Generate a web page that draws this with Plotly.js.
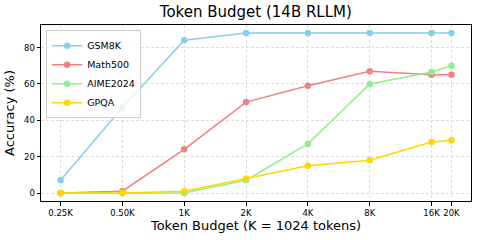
<!DOCTYPE html>
<html><head><meta charset="utf-8">
<script src="https://cdn.plot.ly/plotly-3.0.1.min.js"></script>
<style>html,body{margin:0;padding:0;background:#fff}#c{width:480px;height:240px}</style>
</head><body><div id="c"></div>
<script>
const budgets = [0.25, 0.5, 1, 2, 4, 8, 16, 20];
const tickLabels = ["0.25K", "0.50K", "1K", "2K", "4K", "8K", "16K", "20K"];
const gsm8k = [7, 47, 84, 88, 88, 88, 88, 88];
const math500 = [0, 1, 24, 50, 59, 67, 65, 65];
const aime2024 = [0, 0, 0, 7, 27, 60, 66.5, 70];
const gpqa = [0, 0, 1, 8, 15, 18, 28, 29];
const names = ["GSM8K", "Math500", "AIME2024", "GPQA"];
const colors = ["#87CEEB", "#F08080", "#90EE90", "#FFD700"];
const series = [gsm8k, math500, aime2024, gpqa];

const traces = series.map((s, i) => ({
  x: budgets, y: s, name: names[i], type: "scatter", mode: "lines+markers",
  line: {color: colors[i], width: 1.5},
  marker: {color: colors[i], size: 6.5}
}));

const lo = Math.log10(0.25) - 0.316 * Math.log10(2);
const hi = Math.log10(20) + 0.316 * Math.log10(2);

const layout = {
  width: 480, height: 240,
  margin: {l: 40.5, r: 9, t: 25, b: 39},
  paper_bgcolor: "#fff", plot_bgcolor: "#fff",
  font: {family: "DejaVu Sans", color: "#000"},
  title: {text: "Token Budget (14B RLLM)", font: {size: 15, color: "#000"}, x: 0.533, xanchor: "center", yref: "container", y: 1, yanchor: "top", pad: {t: 6}},
  xaxis: {
    type: "log", range: [lo, hi], tickvals: budgets, ticktext: tickLabels,
    tickfont: {size: 8.5}, ticks: "outside", ticklen: 3.5, tickcolor: "#000",
    showline: true, linecolor: "#000", linewidth: 1, mirror: true,
    showgrid: true, gridcolor: "#d4d4d4", griddash: "3px,2px", gridwidth: 0.8,
    zeroline: false,
    title: {text: "Token Budget (K = 1024 tokens)", font: {size: 13}, standoff: 4}
  },
  yaxis: {
    range: [-4.4, 92.4], tickvals: [0, 20, 40, 60, 80],
    tickfont: {size: 8.5}, ticks: "outside", ticklen: 3.5, tickcolor: "#000",
    showline: true, linecolor: "#000", linewidth: 1, mirror: true,
    showgrid: true, gridcolor: "#d4d4d4", griddash: "3px,2px", gridwidth: 0.8,
    zeroline: false,
    title: {text: "Accuracy (%)", font: {size: 13}, standoff: 6}
  },
  legend: {
    x: 0.012, y: 0.97, xanchor: "left", yanchor: "top",
    bgcolor: "rgba(255,255,255,0.8)", bordercolor: "#cccccc", borderwidth: 1,
    font: {size: 9.5}, tracegroupgap: 0, itemwidth: 30
  },
  showlegend: true
};
Plotly.newPlot("c", traces, layout, {staticPlot: true, displayModeBar: false});
</script></body></html>
